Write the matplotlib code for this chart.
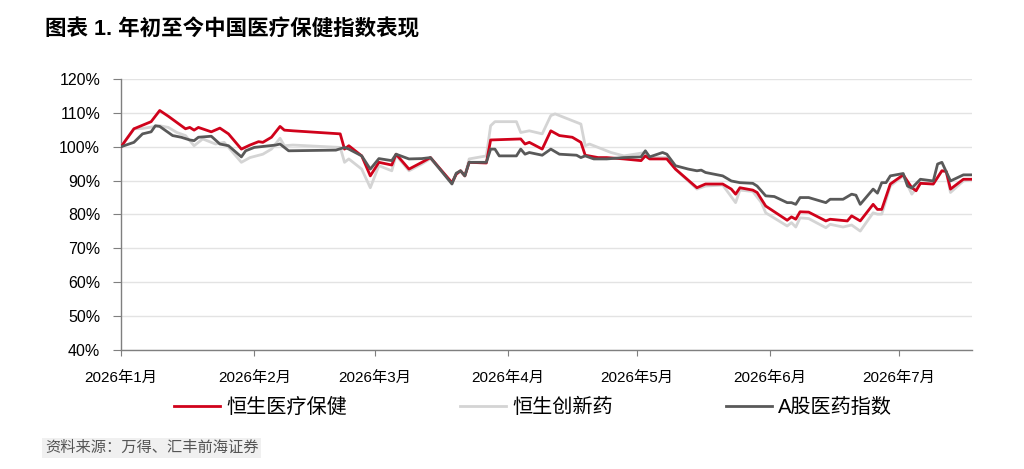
import matplotlib
matplotlib.use("Agg")
import matplotlib.pyplot as plt
import matplotlib.ticker as mticker
import pandas as pd

plt.rcParams['font.family'] = ['Liberation Sans', 'Noto Sans CJK SC', 'DejaVu Sans']

title = "图表 1. 年初至今中国医疗保健指数表现"
source = "资料来源：万得、汇丰前海证券"
names = ["恒生医疗保健", "恒生创新药", "A股医药指数"]

# 恒生医疗保健 (red), indexed to 100 at start of year
red_dates = ["2026-01-01", "2026-01-04", "2026-01-08", "2026-01-10", "2026-01-12",
             "2026-01-16", "2026-01-17", "2026-01-18", "2026-01-19", "2026-01-22",
             "2026-01-24", "2026-01-26", "2026-01-29", "2026-01-31", "2026-02-02",
             "2026-02-03", "2026-02-05", "2026-02-07", "2026-02-08", "2026-02-10",
             "2026-02-21", "2026-02-22", "2026-02-23", "2026-02-26", "2026-02-28",
             "2026-03-02", "2026-03-05", "2026-03-06", "2026-03-09", "2026-03-12",
             "2026-03-14", "2026-03-19", "2026-03-20", "2026-03-21", "2026-03-22",
             "2026-03-23", "2026-03-27", "2026-03-28", "2026-04-04", "2026-04-05",
             "2026-04-06", "2026-04-09", "2026-04-11", "2026-04-13", "2026-04-16",
             "2026-04-18", "2026-04-19", "2026-04-22", "2026-04-24", "2026-04-28",
             "2026-05-02", "2026-05-03", "2026-05-04", "2026-05-08", "2026-05-10",
             "2026-05-15", "2026-05-17", "2026-05-21", "2026-05-23", "2026-05-24",
             "2026-05-25", "2026-05-28", "2026-05-29", "2026-05-31", "2026-06-05",
             "2026-06-06", "2026-06-07", "2026-06-08", "2026-06-10", "2026-06-14",
             "2026-06-15", "2026-06-19", "2026-06-20", "2026-06-22", "2026-06-25",
             "2026-06-26", "2026-06-27", "2026-06-29", "2026-07-02", "2026-07-04",
             "2026-07-05", "2026-07-06", "2026-07-09", "2026-07-11", "2026-07-12",
             "2026-07-13", "2026-07-16", "2026-07-18"]
red_vals = [100.0, 105.3, 107.4, 110.7, 109.0,
            105.3, 105.7, 104.9, 105.7, 104.4,
            105.5, 103.8, 99.3, 100.5, 101.5,
            101.3, 102.8, 106.0, 104.9, 104.7,
            103.8, 99.3, 100.3, 97.3, 91.4,
            95.4, 94.6, 97.8, 93.4, 95.4,
            96.8, 89.4, 91.9, 92.9, 91.4,
            95.4, 95.2, 102.0, 102.3, 100.8,
            101.3, 99.3, 104.7, 103.3, 102.8,
            101.3, 97.5, 96.8, 96.8, 96.4,
            95.9, 97.3, 96.4, 96.4, 93.4,
            87.9, 89.0, 89.0, 87.5, 86.0,
            87.9, 87.2, 86.5, 82.5, 78.3,
            79.3, 78.6, 80.8, 80.7, 78.1,
            78.6, 78.1, 79.6, 78.1, 83.0,
            81.5, 81.5, 89.0, 91.7, 87.9,
            87.0, 89.2, 89.0, 92.9, 92.7,
            87.5, 90.4, 90.4]

# 恒生创新药 (light grey)
grey_dates = ["2026-01-01", "2026-01-04", "2026-01-06", "2026-01-10", "2026-01-12",
              "2026-01-14", "2026-01-16", "2026-01-18", "2026-01-20", "2026-01-23",
              "2026-01-25", "2026-01-29", "2026-01-31", "2026-02-03", "2026-02-05",
              "2026-02-07", "2026-02-08", "2026-02-10", "2026-02-21", "2026-02-22",
              "2026-02-23", "2026-02-26", "2026-02-28", "2026-03-02", "2026-03-05",
              "2026-03-06", "2026-03-09", "2026-03-12", "2026-03-14", "2026-03-19",
              "2026-03-20", "2026-03-21", "2026-03-22", "2026-03-23", "2026-03-27",
              "2026-03-28", "2026-03-29", "2026-04-03", "2026-04-04", "2026-04-06",
              "2026-04-09", "2026-04-11", "2026-04-12", "2026-04-18", "2026-04-19",
              "2026-04-20", "2026-04-25", "2026-04-28", "2026-05-03", "2026-05-04",
              "2026-05-08", "2026-05-10", "2026-05-15", "2026-05-17", "2026-05-21",
              "2026-05-24", "2026-05-25", "2026-05-28", "2026-05-30", "2026-05-31",
              "2026-06-05", "2026-06-06", "2026-06-07", "2026-06-08", "2026-06-10",
              "2026-06-14", "2026-06-15", "2026-06-18", "2026-06-20", "2026-06-22",
              "2026-06-25", "2026-06-26", "2026-06-27", "2026-06-29", "2026-07-02",
              "2026-07-04", "2026-07-06", "2026-07-09", "2026-07-11", "2026-07-12",
              "2026-07-13", "2026-07-16", "2026-07-18"]
grey_vals = [100.0, 105.3, 105.4, 106.2, 105.7,
             104.2, 103.3, 100.3, 102.3, 100.8,
             101.3, 95.4, 96.8, 97.8, 99.3,
             102.5, 100.3, 100.5, 99.8, 95.4,
             96.4, 93.4, 87.9, 94.4, 92.9,
             97.5, 92.9, 94.9, 96.5, 89.2,
             92.0, 92.9, 91.4, 96.4, 97.3,
             106.2, 107.4, 107.4, 104.2, 104.7,
             103.8, 109.2, 109.7, 106.7, 100.3,
             100.8, 98.3, 97.3, 98.3, 96.8,
             96.8, 93.4, 87.5, 88.4, 88.7,
             83.5, 87.2, 86.8, 83.5, 80.5,
             76.6, 77.6, 76.3, 79.0, 78.8,
             76.1, 77.1, 76.3, 76.9, 75.1,
             80.5, 80.1, 80.1, 88.4, 91.4,
             86.0, 89.2, 89.0, 92.9, 92.7,
             86.5, 89.9, 90.4]

# A股医药指数 (dark grey)
dark_dates = ["2026-01-01", "2026-01-04", "2026-01-06", "2026-01-08", "2026-01-09",
              "2026-01-10", "2026-01-13", "2026-01-15", "2026-01-17", "2026-01-18",
              "2026-01-19", "2026-01-22", "2026-01-24", "2026-01-26", "2026-01-29",
              "2026-01-30", "2026-02-01", "2026-02-06", "2026-02-07", "2026-02-09",
              "2026-02-20", "2026-02-22", "2026-02-23", "2026-02-26", "2026-02-28",
              "2026-03-02", "2026-03-05", "2026-03-06", "2026-03-09", "2026-03-12",
              "2026-03-14", "2026-03-19", "2026-03-20", "2026-03-21", "2026-03-22",
              "2026-03-23", "2026-03-27", "2026-03-28", "2026-03-29", "2026-03-30",
              "2026-04-03", "2026-04-04", "2026-04-05", "2026-04-06", "2026-04-09",
              "2026-04-11", "2026-04-13", "2026-04-17", "2026-04-18", "2026-04-19",
              "2026-04-21", "2026-04-24", "2026-04-28", "2026-05-02", "2026-05-03",
              "2026-05-04", "2026-05-07", "2026-05-08", "2026-05-10", "2026-05-13",
              "2026-05-15", "2026-05-16", "2026-05-17", "2026-05-21", "2026-05-23",
              "2026-05-25", "2026-05-28", "2026-05-29", "2026-05-31", "2026-06-02",
              "2026-06-05", "2026-06-06", "2026-06-07", "2026-06-08", "2026-06-10",
              "2026-06-14", "2026-06-15", "2026-06-18", "2026-06-20", "2026-06-21",
              "2026-06-22", "2026-06-25", "2026-06-26", "2026-06-27", "2026-06-28",
              "2026-06-29", "2026-07-02", "2026-07-03", "2026-07-04", "2026-07-06",
              "2026-07-09", "2026-07-10", "2026-07-11", "2026-07-13", "2026-07-16",
              "2026-07-18"]
dark_vals = [100.0, 101.3, 103.8, 104.4, 106.2,
             106.0, 103.3, 102.8, 102.0, 101.8,
             102.8, 103.1, 100.8, 100.3, 97.0,
             98.8, 99.8, 100.5, 100.8, 98.8,
             99.0, 99.8, 99.3, 97.3, 93.4,
             96.5, 95.9, 97.8, 96.4, 96.5,
             96.8, 89.0, 92.2, 92.9, 91.4,
             95.4, 95.4, 99.3, 99.3, 97.3,
             97.3, 99.3, 97.8, 98.3, 97.5,
             99.3, 97.8, 97.5, 96.8, 97.3,
             96.4, 96.4, 96.8, 97.0, 98.8,
             97.0, 98.3, 97.8, 94.4, 93.4,
             92.9, 93.1, 92.4, 91.4, 89.9,
             89.4, 89.2, 88.4, 85.5, 85.3,
             83.5, 83.5, 83.0, 85.0, 85.0,
             83.5, 84.5, 84.5, 86.0, 85.7,
             83.0, 87.5, 86.3, 89.4, 89.4,
             91.4, 92.1, 88.4, 87.8, 90.4,
             89.9, 94.9, 95.4, 89.9, 91.7,
             91.7]

month_ticks = pd.date_range("2026-01-01", "2026-07-01", freq="MS")
month_labels = [f"2026年{m.month}月" for m in month_ticks]

fig = plt.figure(figsize=(10.24, 4.69), dpi=100)
ax = fig.add_axes([0.1182, 0.2537, 0.8310, 0.5779])

# grey first so the red and dark lines sit on top of it
l_grey, = ax.plot(pd.to_datetime(grey_dates), [v / 100 for v in grey_vals],
                  color="#d4d4d4", lw=2.0, zorder=3)
l_red, = ax.plot(pd.to_datetime(red_dates), [v / 100 for v in red_vals],
                 color="#d0021b", lw=2.0, zorder=4)
l_dark, = ax.plot(pd.to_datetime(dark_dates), [v / 100 for v in dark_vals],
                  color="#595959", lw=2.0, zorder=5)

ax.set_xlim(pd.Timestamp("2026-01-01"), pd.Timestamp("2026-07-18"))
ax.set_ylim(0.4, 1.2)
ax.set_yticks([0.4 + 0.1 * i for i in range(9)])
ax.yaxis.set_major_formatter(mticker.PercentFormatter(1.0, decimals=0))
ax.set_xticks(month_ticks)
ax.set_xticklabels(month_labels)

ax.grid(axis="y", color="#e3e3e3", lw=1.0, zorder=0)
for s in ["top", "right"]:
    ax.spines[s].set_visible(False)
for s in ["left", "bottom"]:
    ax.spines[s].set_color("#7f7f7f")
    ax.spines[s].set_linewidth(1.0)
ax.tick_params(axis="y", length=6, color="#7f7f7f", pad=9, labelsize=11.5)
ax.tick_params(axis="x", length=4, color="#7f7f7f", pad=11, labelsize=11)

fig.text(45 / 1024, 1 - 30 / 469, title, fontsize=15.5, fontweight="bold", va="center", ha="left")

fig.legend([l_red, l_grey, l_dark], names, loc="center",
           bbox_to_anchor=(533 / 1024, 1 - 407 / 469), ncol=3,
           frameon=False, fontsize=14.5, handlelength=2.3, handletextpad=0.3,
           columnspacing=5.6, borderaxespad=0)

fig.text(45 / 1024, 1 - 448 / 469, source, fontsize=11, color="#555555", va="center", ha="left",
         bbox=dict(facecolor="#f0f0f0", edgecolor="none", pad=2))

fig.savefig("out.png", dpi=100)
